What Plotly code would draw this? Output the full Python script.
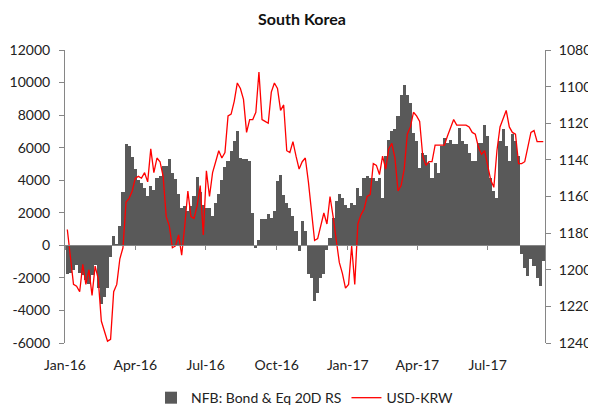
import pandas as pd
import plotly.graph_objects as go

# Sample dates (every 4 days)
dates = pd.date_range("2016-01-04", periods=155, freq="4D")

nfb_flows = [
    -1780, -1680, -1500, -1200, -1700, -1800, -2100, -2400, -1800, -1200,
    -2600, -3600, -3200, -2600, -700, 600, 100, 1200, 3300, 6200,
    6100, 5400, 4700, 4000, 3800, 3500, 3030, 3640, 3400, 4150,
    4250, 4870, 4870, 5280, 4460, 4050, 3130, 2300, 2400, 2100,
    2400, 3030, 4200, 3300, 2500, 2300, 2300, 1800, 2600, 3130,
    4000, 4800, 5170, 5790, 6400, 7000, 5380, 5280, 5300, 5200,
    2000, -140, 300, 1600, 1600, 1900, 1700, 2100, 3950, 4350,
    3100, 2600, 2300, 1800, 900, -350, 1500, 900, -1780, -2000,
    -3400, -2900, -2000, -1780, -300, 470, 1700, 2720, 3130, 2920,
    2500, 2300, 2600, 2500, 3500, 3030, 4150, 4250, 4150, 4150,
    3950, 4150, 2920, 5500, 6500, 7000, 7120, 7930, 9260, 9880,
    9260, 8750, 6910, 6400, 4770, 5690, 5580, 5070, 4150, 5070,
    4460, 6100, 6610, 6300, 6500, 6200, 6200, 7220, 6400, 6200,
    5690, 5170, 5170, 6300, 6300, 7420, 6710, 4150, 3330, 2920,
    6400, 7120, 6100, 5170, 6810, 6400, 5500, -550, -1370, -1880,
    -860, -1270, -1980, -2500, -960,
]

usd_krw = [
    1178, 1194, 1208, 1209, 1212, 1197, 1208, 1200, 1214, 1198,
    1205, 1228, 1234, 1239, 1238, 1212, 1208, 1194, 1188, 1163,
    1161, 1157, 1150, 1149, 1150, 1147, 1152, 1134, 1147, 1139,
    1141, 1149, 1171, 1176, 1188, 1187, 1181, 1192, 1176, 1157,
    1171, 1172, 1165, 1154, 1181, 1146, 1160, 1147, 1141, 1135,
    1139, 1136, 1116, 1115, 1108, 1098, 1101, 1107, 1125, 1118,
    1118, 1114, 1092, 1118, 1119, 1120, 1103, 1098, 1101, 1113,
    1110, 1135, 1136, 1130, 1138, 1145, 1141, 1139, 1152, 1169,
    1184, 1183, 1176, 1169, 1175, 1160, 1171, 1185, 1196, 1202,
    1210, 1208, 1187, 1208, 1175, 1170, 1167, 1160, 1159, 1142,
    1143, 1148, 1138, 1145, 1134, 1131, 1139, 1157, 1154, 1145,
    1126, 1122, 1114, 1116, 1119, 1138, 1143, 1141, 1141, 1132,
    1132, 1132, 1132, 1127, 1123, 1118, 1121, 1121, 1121, 1121,
    1122, 1125, 1126, 1133, 1137, 1135, 1143, 1151, 1155, 1135,
    1122, 1118, 1113, 1122, 1125, 1126, 1142, 1142, 1141, 1133,
    1125, 1124, 1130, 1130, 1130,
]

tick_dates = ["2016-01-01", "2016-04-01", "2016-07-01", "2016-10-01",
              "2017-01-01", "2017-04-01", "2017-07-01"]
tick_labels = ["Jan-16", "Apr-16", "Jul-16", "Oct-16", "Jan-17", "Apr-17", "Jul-17"]

left_ticks = [-6000, -4000, -2000, 0, 2000, 4000, 6000, 8000, 10000, 12000]
left_labels = ["-6000", "-4000", "-2000", "0", "2000", "4000", "6000", "8000", "10000", "12000"]

right_ticks = [1080, 1100, 1120, 1140, 1160, 1180, 1200, 1220, 1240]
right_labels = ["1080", "1100", "1120", "1140", "1160", "1180", "1200", "1220", "1240"]

FONT = "Lato, 'Open Sans', sans-serif"
AX = "#868686"
x_range = ["2016-01-01", "2017-09-13 05:00"]

# page body has an 8px default margin -> figure is 8px smaller
W, H = 588, 403

fig = go.Figure()
fig.add_trace(go.Bar(
    x=dates, y=nfb_flows, name="NFB: Bond & Eq 20D RS",
    marker=dict(color="#595959", line=dict(width=0)),
    width=4 * 86400000, yaxis="y", xaxis="x",
))
fig.add_trace(go.Scatter(
    x=dates, y=usd_krw, name="USD-KRW", mode="lines",
    line=dict(color="#ff0000", width=1.3), yaxis="y2", xaxis="x",
))

fig.update_layout(
    width=W, height=H,
    margin=dict(l=57, r=51, t=42, b=68, autoexpand=False),
    paper_bgcolor="white", plot_bgcolor="white",
    font=dict(family=FONT, size=14, color="#222222"),
    title=dict(text="<b>South Korea</b>", x=0.5, xanchor="center",
               y=1 - 11 / H, yanchor="middle",
               font=dict(family=FONT, size=16, color="#111111")),
    bargap=0,
    showlegend=True,
    legend=dict(orientation="h", x=0.5, xanchor="center",
                y=-0.188, yanchor="middle",
                font=dict(size=14), itemwidth=30, tracegroupgap=0,
                bgcolor="rgba(0,0,0,0)"),
    xaxis=dict(type="date", range=x_range, anchor="free", position=1 / 3,
               showline=True, linecolor=AX, linewidth=1,
               ticks="outside", ticklen=4, tickcolor=AX,
               tickvals=tick_dates, showticklabels=False,
               showgrid=False, zeroline=False, automargin=False),
    xaxis2=dict(type="date", range=x_range, overlaying="x", anchor="y",
                side="bottom", showline=False, ticks="",
                tickvals=tick_dates, ticktext=tick_labels,
                showgrid=False, zeroline=False, ticklabelstandoff=12,
                tickfont=dict(size=14), automargin=False),
    yaxis=dict(range=[-6000, 12000], tickvals=left_ticks, ticktext=left_labels,
               showline=True, linecolor=AX, linewidth=1,
               ticks="outside", ticklen=5, tickcolor=AX,
               showgrid=False, zeroline=False, ticklabelstandoff=6,
               tickfont=dict(size=14), automargin=False),
    yaxis2=dict(range=[1240, 1080], tickvals=right_ticks, ticktext=right_labels,
                overlaying="y", side="right", anchor="x",
                showline=True, linecolor=AX, linewidth=1,
                ticks="outside", ticklen=5, tickcolor=AX,
                showgrid=False, zeroline=False, ticklabelstandoff=5,
                tickfont=dict(size=14), automargin=False),
)

# invisible helper trace so the label axis (xaxis2) is drawn
fig.add_trace(go.Scatter(x=[dates[0]], y=[0], xaxis="x2", yaxis="y",
                         mode="markers", marker=dict(opacity=0),
                         showlegend=False, hoverinfo="skip"))

fig.write_html("out.html")
